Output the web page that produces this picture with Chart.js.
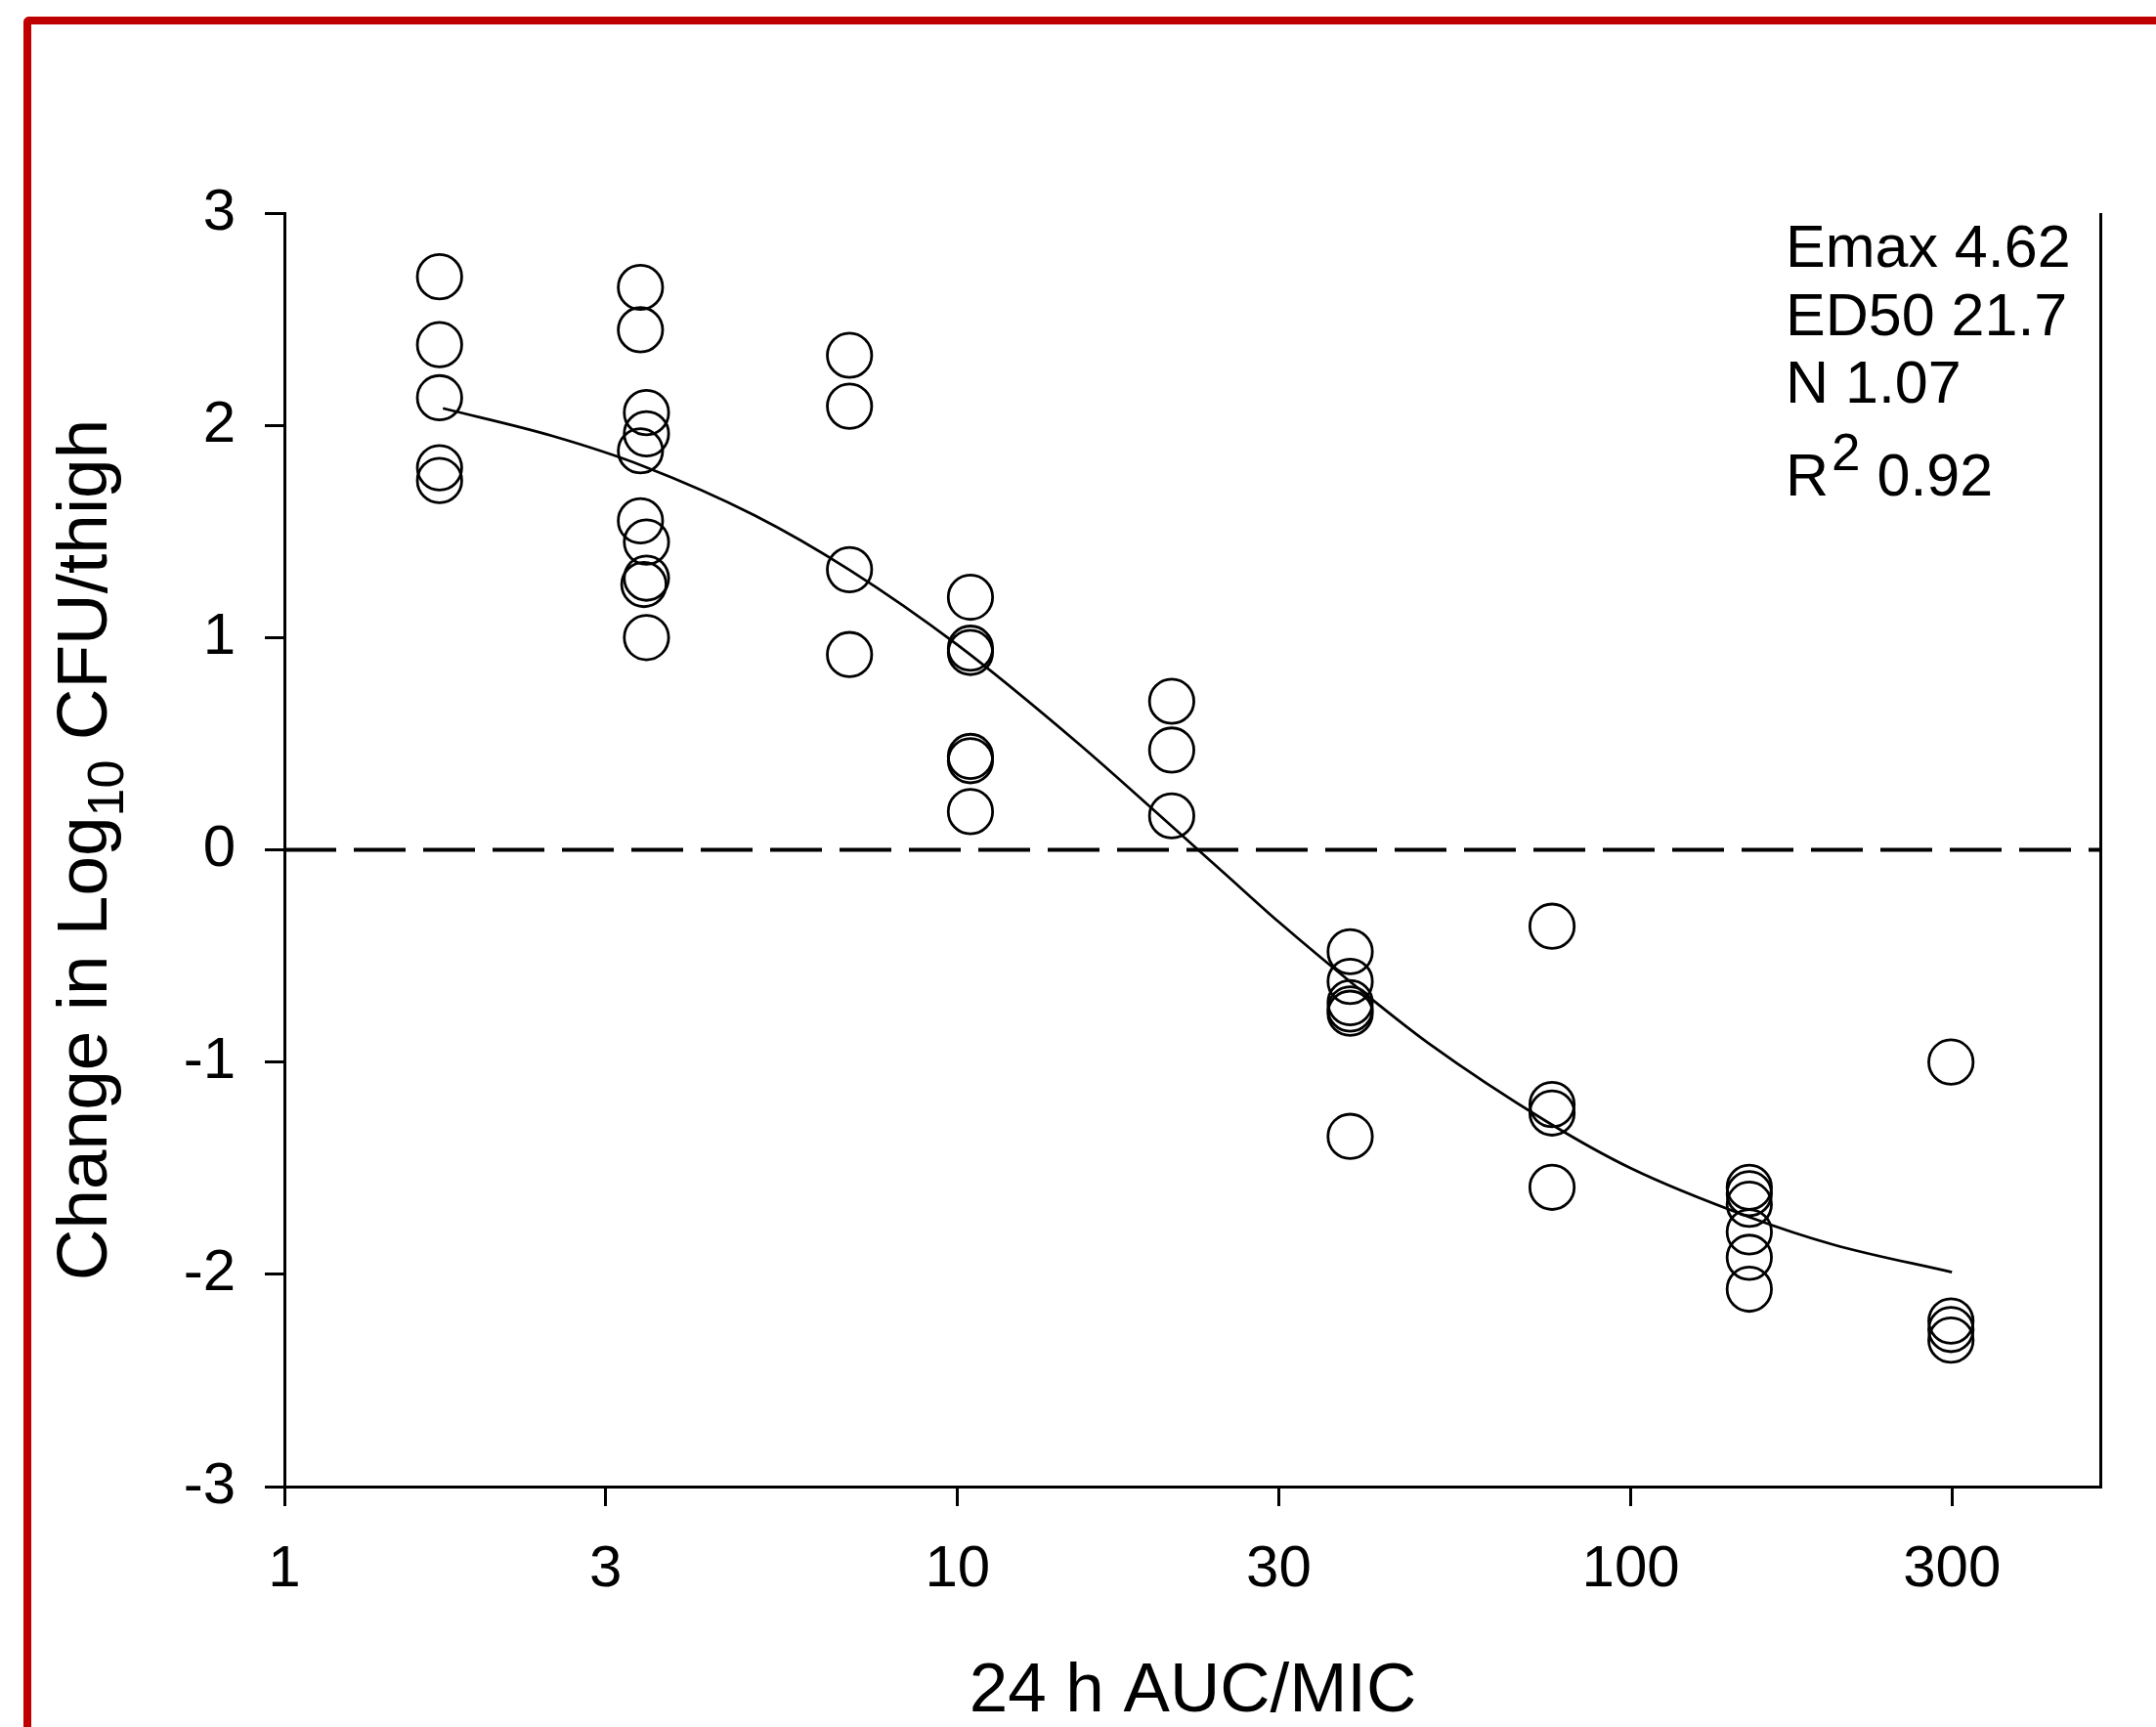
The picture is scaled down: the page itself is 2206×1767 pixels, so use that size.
<!DOCTYPE html>
<html><head><meta charset="utf-8">
<script src="https://cdn.jsdelivr.net/npm/chart.js@4.4.1/dist/chart.umd.min.js"></script>
<style>
html,body{margin:0;padding:0;background:#fff;width:2206px;height:1767px;overflow:hidden;}
#frame{position:absolute;left:24px;top:17px;width:2400px;height:2000px;border-left:8px solid #c00000;border-top:8px solid #c00000;border-top-left-radius:6px;box-sizing:border-box;}
#c{position:absolute;left:0;top:0;}
</style></head><body>
<div id="frame"></div>
<canvas id="c" width="2206" height="1767"></canvas>
<script>
// ---- data ----
const obsX = [
  1.70,1.70,1.70,1.70,1.70,
  3.38,3.38,3.45,3.45,3.38,3.38,3.45,3.45,3.42,3.45,
  6.91,6.91,6.91,6.91,
  10.45,10.45,10.45,10.45,10.45,10.45,
  20.8,20.8,20.8,
  38.3,38.3,38.3,38.3,38.3,38.3,
  76.4,76.4,76.4,76.4,
  150,150,150,150,150,150,
  299,299,299,299
];
const obsY = [
  2.70,2.38,2.13,1.80,1.74,
  2.65,2.45,2.06,1.96,1.88,1.55,1.45,1.28,1.25,1.00,
  2.33,2.09,1.32,0.92,
  1.19,0.95,0.93,0.44,0.42,0.18,
  0.70,0.47,0.16,
  -0.48,-0.62,-0.72,-0.75,-0.77,-1.35,
  -0.36,-1.20,-1.24,-1.59,
  -1.59,-1.62,-1.67,-1.80,-1.92,-2.07,
  -1.00,-2.22,-2.26,-2.31
];
const fitX = [1.72, 2.5, 3.4, 5, 6.9, 10, 15, 20, 25, 30, 40, 50, 75, 100, 150, 200, 300];
const fitY = [2.08, 1.95, 1.81, 1.575, 1.32, 0.965, 0.51, 0.16, -0.115, -0.34, -0.67, -0.91, -1.28, -1.50, -1.73, -1.86, -1.99];
const zeroX = [1, 500];
const zeroY = [0, 0];
const xTicks = [1, 3, 10, 30, 100, 300];
const yTicks = [-3, -2, -1, 0, 1, 2, 3];
const xTitle = '24 h AUC/MIC';
const yTitleParts = ['Change in Log', '10', ' CFU/thigh'];
const statLines = ['Emax 4.62', 'ED50 21.7', 'N 1.07'];
const r2Parts = ['R', '2', ' 0.92'];

const FONT = '"Liberation Sans", Arial, sans-serif';

const toPts = (xs, ys) => xs.map((x, i) => ({x: x, y: ys[i]}));

const extras = {
  id: 'extras',
  afterDraw(chart) {
    const ctx = chart.ctx, a = chart.chartArea;
    ctx.save();
    // right frame line
    ctx.strokeStyle = '#000'; ctx.lineWidth = 3;
    ctx.beginPath(); ctx.moveTo(a.right - 0.5, a.top); ctx.lineTo(a.right - 0.5, a.bottom + 1); ctx.stroke();
    // y title with subscript
    ctx.fillStyle = '#000';
    ctx.translate(83, (a.top + a.bottom) / 2);
    ctx.rotate(-Math.PI / 2);
    const big = '73px ' + FONT, small = '52px ' + FONT;
    ctx.font = big; const w1 = ctx.measureText(yTitleParts[0]).width; const w3 = ctx.measureText(yTitleParts[2]).width;
    ctx.font = small; const w2 = ctx.measureText(yTitleParts[1]).width;
    let sx = -(w1 + w2 + w3) / 2;
    ctx.textBaseline = 'alphabetic'; ctx.textAlign = 'left';
    ctx.font = big; ctx.fillText(yTitleParts[0], sx, 26); sx += w1;
    ctx.font = small; ctx.fillText(yTitleParts[1], sx, 43); sx += w2;
    ctx.font = big; ctx.fillText(yTitleParts[2], sx, 26);
    ctx.restore();
    // fit statistics
    ctx.save();
    ctx.fillStyle = '#000'; ctx.textAlign = 'left'; ctx.textBaseline = 'alphabetic';
    const tx = a.right - 323;
    const base = [55, 125, 194];
    ctx.font = '61px ' + FONT;
    statLines.forEach((s, i) => ctx.fillText(s, tx, a.top + base[i]));
    let rx = tx;
    const rb = a.top + 289;
    ctx.fillText(r2Parts[0], rx, rb); rx += ctx.measureText(r2Parts[0]).width + 3;
    ctx.font = '53px ' + FONT; ctx.fillText(r2Parts[1], rx, rb - 26); rx += ctx.measureText(r2Parts[1]).width;
    ctx.font = '61px ' + FONT; ctx.fillText(r2Parts[2], rx, rb);
    ctx.restore();
  }
};

new Chart(document.getElementById('c'), {
  type: 'scatter',
  data: {
    datasets: [
      { data: toPts(zeroX, zeroY), showLine: true, borderColor: '#000', borderWidth: 4, borderDash: [53, 18], pointRadius: 0, fill: false },
      { data: toPts(fitX, fitY), showLine: true, borderColor: '#000', borderWidth: 2.7, pointRadius: 0, cubicInterpolationMode: 'monotone', fill: false },
      { data: toPts(obsX, obsY), showLine: false, pointStyle: 'circle', pointRadius: 22.7, pointBorderWidth: 2.8, pointBorderColor: '#000', pointBackgroundColor: 'rgba(0,0,0,0)', pointHoverRadius: 22.7 }
    ]
  },
  options: {
    responsive: false,
    devicePixelRatio: 1,
    animation: false,
    events: [],
    layout: { padding: { left: 0, right: 56, top: 218, bottom: 0 } },
    plugins: { legend: { display: false }, tooltip: { enabled: false } },
    scales: {
      x: {
        type: 'logarithmic', min: 1, max: 500,
        afterBuildTicks: s => { s.ticks = xTicks.map(v => ({ value: v })); },
        afterFit: s => { s.height = 246; },
        grid: { drawOnChartArea: false, drawTicks: true, tickLength: 20, tickWidth: 3, tickColor: '#000' },
        border: { display: true, color: '#000', width: 3 },
        ticks: { autoSkip: false, maxRotation: 0, color: '#000', padding: 29, font: { family: FONT, size: 60 }, callback: v => String(v) },
        title: { display: true, text: xTitle, color: '#000', font: { family: FONT, size: 71, lineHeight: 1.0 }, padding: { top: 0, bottom: 0 } }
      },
      y: {
        type: 'linear', min: -3, max: 3,
        afterBuildTicks: s => { s.ticks = yTicks.map(v => ({ value: v })); },
        afterFit: s => { s.width = 291; },
        grid: { drawOnChartArea: false, drawTicks: true, tickLength: 20, tickWidth: 3, tickColor: '#000' },
        border: { display: true, color: '#000', width: 3 },
        ticks: { color: '#000', padding: 30, font: { family: FONT, size: 60 }, callback: v => String(v) }
      }
    }
  },
  plugins: [extras]
});
</script>
</body></html>
